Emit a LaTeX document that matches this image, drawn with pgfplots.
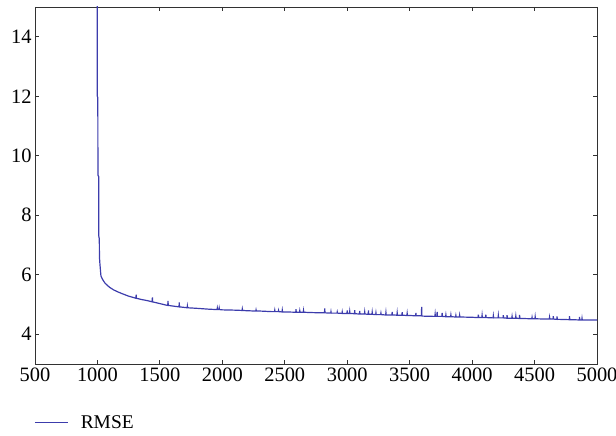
\documentclass[border=0pt]{standalone}
\usepackage{pgfplots}
\pgfplotsset{compat=1.18}
\usepackage{fontspec}
\setmainfont{Liberation Serif}
\definecolor{lineblue}{RGB}{60,60,172}
\definecolor{axgray}{RGB}{50,50,50}
\begin{document}
\begin{tikzpicture}
\begin{axis}[
  scale only axis,
  width=562bp, height=357bp,
  xmin=500, xmax=5000, ymin=3, ymax=15,
  xtick={500,1000,...,5000},
  ytick={4,6,8,10,12,14},
  tick align=inside,
  major tick length=4bp,
  axis line style={axgray, line width=0.9bp},
  every tick/.style={axgray, line width=0.8bp},
  /pgf/number format/assume math mode=true,
  /pgf/number format/1000 sep={},
  tick label style={font=\fontsize{20.5}{23}\selectfont, text=black},
  legend style={draw=none, fill=none, at={(rel axis cs:0,0)}, anchor=north west,
    yshift=-47bp, xshift=-4bp, font=\fontsize{19.5}{22}\selectfont},
  legend cell align=left,
  legend image code/.code={\draw[#1] (0bp,0bp) -- (33bp,0bp); \path[draw=none,fill=none] (44bp,0bp) circle (0bp);},
  clip=true,
]
\coordinate (o) at (rel axis cs:0,0);
\addplot[lineblue, line width=1.2bp] coordinates {
(998,16) (999,12.0) (1003,11.95) (1004,9.35) (1010,9.3) (1011,7.3) (1015,7.2) (1016,6.6) (1020,6.35) (1028,5.96) (1040,5.85) (1060,5.72) (1080,5.64) (1100,5.57) (1130,5.49) (1160,5.43) (1200,5.36) (1250,5.28) (1300,5.22)
(1308,5.21) (1310,5.33) (1312,5.21)
(1350,5.17) (1400,5.13)
(1438,5.09) (1440,5.24) (1442,5.09)
(1450,5.08) (1500,5.03) (1550,4.98)
(1563,4.97) (1565,5.12) (1567,4.97)
(1600,4.95)
(1653,4.92) (1655,5.07) (1657,4.92)
(1700,4.90)
(1718,4.89) (1720,4.95) (1722,4.89)
(1800,4.87) (1900,4.84)
(1958,4.83) (1960,4.88) (1962,4.83) (1973,4.83) (1975,4.88) (1977,4.83)
(2000,4.82) (2100,4.81)
(2158,4.80) (2160,4.85) (2162,4.80)
(2200,4.79)
(2268,4.78) (2270,4.82) (2272,4.78)
(2300,4.78) (2400,4.76)
(2418,4.76) (2420,4.81) (2422,4.76)
(2448,4.76) (2450,4.80) (2452,4.76)
(2478,4.75) (2480,4.81) (2482,4.75)
(2500,4.75)
(2588,4.74) (2590,4.84) (2592,4.74)
(2600,4.74)
(2618,4.74) (2620,4.79) (2622,4.74)
(2648,4.74) (2650,4.80) (2652,4.74)
(2700,4.73) (2800,4.72)
(2818,4.72) (2820,4.87) (2822,4.72)
(2868,4.71) (2870,4.76) (2872,4.71)
(2900,4.71)
(2918,4.71) (2920,4.75) (2922,4.71)
(2958,4.70) (2960,4.75) (2962,4.70)
(2998,4.70) (3000,4.80) (3002,4.70)
(3018,4.70) (3020,4.77) (3022,4.70)
(3058,4.69) (3060,4.81) (3062,4.69)
(3098,4.68) (3100,4.78) (3102,4.68)
(3138,4.68) (3140,4.75) (3142,4.68)
(3168,4.67) (3170,4.80) (3172,4.67)
(3198,4.67) (3200,4.74) (3202,4.67)
(3228,4.66) (3230,4.72) (3232,4.66)
(3268,4.66) (3270,4.71) (3272,4.66)
(3300,4.65)
(3308,4.65) (3310,4.73) (3312,4.65)
(3358,4.65) (3360,4.75) (3362,4.65)
(3398,4.64) (3400,4.72) (3402,4.64)
(3438,4.64) (3440,4.74) (3442,4.64)
(3478,4.63) (3480,4.70) (3482,4.63)
(3500,4.63)
(3548,4.62) (3550,4.72) (3552,4.62)
(3594,4.62) (3596,4.92) (3598,4.62)
(3600,4.61) (3700,4.60)
(3702,4.60) (3704,4.68) (3706,4.60)
(3718,4.60) (3720,4.75) (3722,4.60)
(3758,4.60) (3760,4.72) (3762,4.60)
(3788,4.59) (3790,4.65) (3792,4.59)
(3800,4.59)
(3828,4.59) (3830,4.65) (3832,4.59)
(3868,4.58) (3870,4.63) (3872,4.58)
(3898,4.58) (3900,4.64) (3902,4.58)
(4000,4.57)
(4048,4.56) (4050,4.66) (4052,4.56)
(4078,4.56) (4080,4.64) (4082,4.56)
(4100,4.56)
(4108,4.56) (4110,4.66) (4112,4.56)
(4168,4.55) (4170,4.62) (4172,4.55)
(4200,4.55)
(4208,4.55) (4210,4.63) (4212,4.55)
(4248,4.55) (4250,4.64) (4252,4.55)
(4278,4.54) (4280,4.64) (4282,4.54)
(4300,4.54)
(4318,4.54) (4320,4.60) (4322,4.54)
(4348,4.54) (4350,4.61) (4352,4.54)
(4378,4.53) (4380,4.65) (4382,4.53)
(4400,4.53)
(4478,4.52) (4480,4.57) (4482,4.52)
(4500,4.52)
(4503,4.52) (4505,4.59) (4507,4.52)
(4600,4.51)
(4618,4.51) (4620,4.57) (4622,4.51)
(4648,4.51) (4650,4.61) (4652,4.51)
(4678,4.50) (4680,4.60) (4682,4.50)
(4700,4.50)
(4778,4.49) (4780,4.61) (4782,4.49)
(4800,4.49)
(4858,4.48) (4860,4.58) (4862,4.48)
(4878,4.48) (4880,4.54) (4882,4.48)
(4900,4.48) (5000,4.48)
};
\addlegendentry{RMSE}
\end{axis}
\pgfresetboundingbox
\path (o) ++(-35bp,-72bp) rectangle ++(616bp,436bp);
\end{tikzpicture}
\end{document}
